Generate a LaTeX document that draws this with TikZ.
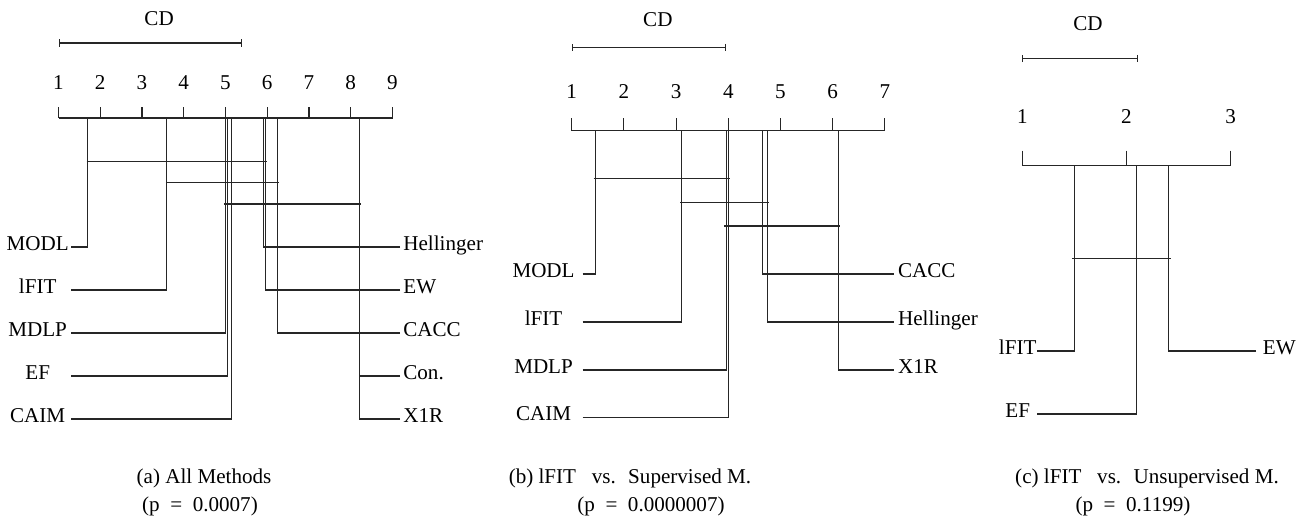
\documentclass[tikz,border=0pt]{standalone}
\usepackage{fontspec}
\setmainfont{Liberation Serif}
\usetikzlibrary{positioning, arrows.meta}

\begin{document}
\begin{tikzpicture}[
    every node/.style={font=\fontsize{12}{14}\selectfont},
    rankline/.style={line width=0.6pt, black!85},
    cdbar/.style={rankline, {Bar[width=4pt]}-{Bar[width=4pt]}},
    lname/.style={anchor=east, text width=#1, align=center, inner sep=0pt, text height=8pt, text depth=4.5pt},
    rname/.style={anchor=west, inner sep=#1, text height=8pt, text depth=4.5pt},
    rname/.default=0.06cm]
    \useasboundingbox (0,0) rectangle (26.1,-10.44);

    % (a) all methods
    \begin{scope}[xshift=0.335cm, x=0.835cm]
        \node (acd) at (3.41,-0.38) {CD};
        \coordinate (acd1) at (1,-0.86);
        \coordinate (acd2) at (5.40,-0.86);
        \draw[cdbar] (acd1) -- (acd2);
        \draw[rankline] (1,-2.36) -- (9,-2.36);
        \foreach \i in {1,...,9} {
            \node (at\i) at (\i,-1.66) {\i};
            \draw[rankline] (\i,-2.14) -- (\i,-2.36);
        }

        \coordinate (amodl) at (1.70,-2.36);
        \coordinate (alfit) at (3.59,-2.36);
        \coordinate (amdlp) at (5.00,-2.36);
        \coordinate (aef) at (5.05,-2.36);
        \coordinate (acaim) at (5.15,-2.36);
        \coordinate (ahel) at (5.90,-2.36);
        \coordinate (aew) at (5.95,-2.36);
        \coordinate (acacc) at (6.25,-2.36);
        \coordinate (acon) at (8.20,-2.36);
        \coordinate (ax1r) at (8.20,-2.36);

        \node[lname=1.32cm] (amodlt) at (1.30,-4.94) {MODL};
        \node[lname=1.32cm] (alfitt) at (1.30,-5.80) {lFIT};
        \node[lname=1.32cm] (amdlpt) at (1.30,-6.66) {MDLP};
        \node[lname=1.32cm] (aeft) at (1.30,-7.52) {EF};
        \node[lname=1.32cm] (acaimt) at (1.30,-8.38) {CAIM};
        \node[rname] (ahelt) at (9.18,-4.94) {Hellinger};
        \node[rname] (aewt) at (9.18,-5.80) {EW};
        \node[rname] (acacct) at (9.18,-6.66) {CACC};
        \node[rname] (acont) at (9.18,-7.52) {Con.};
        \node[rname] (ax1rt) at (9.18,-8.38) {X1R};

        \foreach \m in {modl,lfit,mdlp,ef,caim}
            \draw[rankline] (a\m t.east) -| (a\m);
        \foreach \m in {hel,ew,cacc,con,x1r}
            \draw[rankline] (a\m t.west) -| (a\m);

        \draw[rankline] (1.675,-3.23) -- (5.99,-3.23);
        \draw[rankline] (3.57,-3.65) -- (6.28,-3.65);
        \draw[rankline] (4.96,-4.08) -- (8.24,-4.08);
    \end{scope}

    % (b) lFIT vs. supervised
    \begin{scope}[xshift=10.39cm, x=1.044cm]
        \node (bcd) at (2.65,-0.40) {CD};
        \coordinate (bcd1) at (1,-0.946);
        \coordinate (bcd2) at (3.95,-0.946);
        \draw[cdbar] (bcd1) -- (bcd2);
        \draw[rankline] (1,-2.61) -- (7,-2.61);
        \foreach \i in {1,...,7} {
            \node (bt\i) at (\i,-1.84) {\i};
            \draw[rankline] (\i,-2.36) -- (\i,-2.61);
        }

        \coordinate (bmodl) at (1.46,-2.61);
        \coordinate (blfit) at (3.11,-2.61);
        \coordinate (bmdlp) at (3.96,-2.61);
        \coordinate (bcaim) at (4.01,-2.61);
        \coordinate (bcacc) at (4.66,-2.61);
        \coordinate (bhel) at (4.755,-2.61);
        \coordinate (bx1r) at (6.11,-2.61);

        \node[lname=1.55cm] (bmodlt) at (1.21,-5.48) {MODL};
        \node[lname=1.55cm] (blfitt) at (1.21,-6.44) {lFIT};
        \node[lname=1.55cm] (bmdlpt) at (1.21,-7.40) {MDLP};
        \node[lname=1.55cm] (bcaimt) at (1.21,-8.35) {CAIM};
        \node[rname=0.08cm] (bcacct) at (7.17,-5.48) {CACC};
        \node[rname=0.08cm] (bhelt) at (7.17,-6.44) {Hellinger};
        \node[rname=0.08cm] (bx1rt) at (7.17,-7.40) {X1R};

        \foreach \m in {modl,lfit,mdlp,caim}
            \draw[rankline] (b\m t.east) -| (b\m);
        \foreach \m in {cacc,hel,x1r}
            \draw[rankline] (b\m t.west) -| (b\m);

        \draw[rankline] (1.42,-3.57) -- (4.03,-3.57);
        \draw[rankline] (3.075,-4.05) -- (4.785,-4.05);
        \draw[rankline] (3.92,-4.52) -- (6.13,-4.52);
    \end{scope}

    % (c) lFIT vs. unsupervised
    \begin{scope}[xshift=18.362cm, x=2.084cm]
        \node (ccd) at (1.63,-0.47) {CD};
        \coordinate (ccd1) at (1,-1.17);
        \coordinate (ccd2) at (2.11,-1.17);
        \draw[cdbar] (ccd1) -- (ccd2);
        \draw[rankline] (1,-3.31) -- (3,-3.31);
        \foreach \i in {1,...,3} {
            \node (ct\i) at (\i,-2.33) {\i};
            \draw[rankline] (\i,-3.01) -- (\i,-3.31);
        }

        \coordinate (clfit) at (1.503,-3.31);
        \coordinate (cef) at (2.10,-3.31);
        \coordinate (cew) at (2.405,-3.31);

        \node[lname=0.77cm] (clfitt) at (1.144,-7.02) {lFIT};
        \node[lname=0.77cm] (ceft) at (1.144,-8.28) {EF};
        \node[rname=0.13cm] (cewt) at (3.244,-7.02) {EW};

        \draw[rankline] (clfitt.east) -| (clfit);
        \draw[rankline] (ceft.east) -| (cef);
        \draw[rankline] (cewt.west) -| (cew);

        \draw[rankline] (1.477,-5.17) -- (2.427,-5.17);
    \end{scope}

    % captions
    \node (capa) at (4.08,-9.56) {(a) All Methods};
    \node (pa) at (4.0,-10.12) {(p\enspace=\enspace0.0007)};
    \node (capb) at (12.6,-9.56) {(b) lFIT~~ vs.~ Supervised M.};
    \node (pb) at (13.02,-10.12) {(p\enspace=\enspace0.0000007)};
    \node (capc) at (22.94,-9.56) {(c) lFIT~~ vs.~ Unsupervised M.};
    \node (pc) at (22.66,-10.12) {(p\enspace=\enspace0.1199)};
\end{tikzpicture}
\end{document}
